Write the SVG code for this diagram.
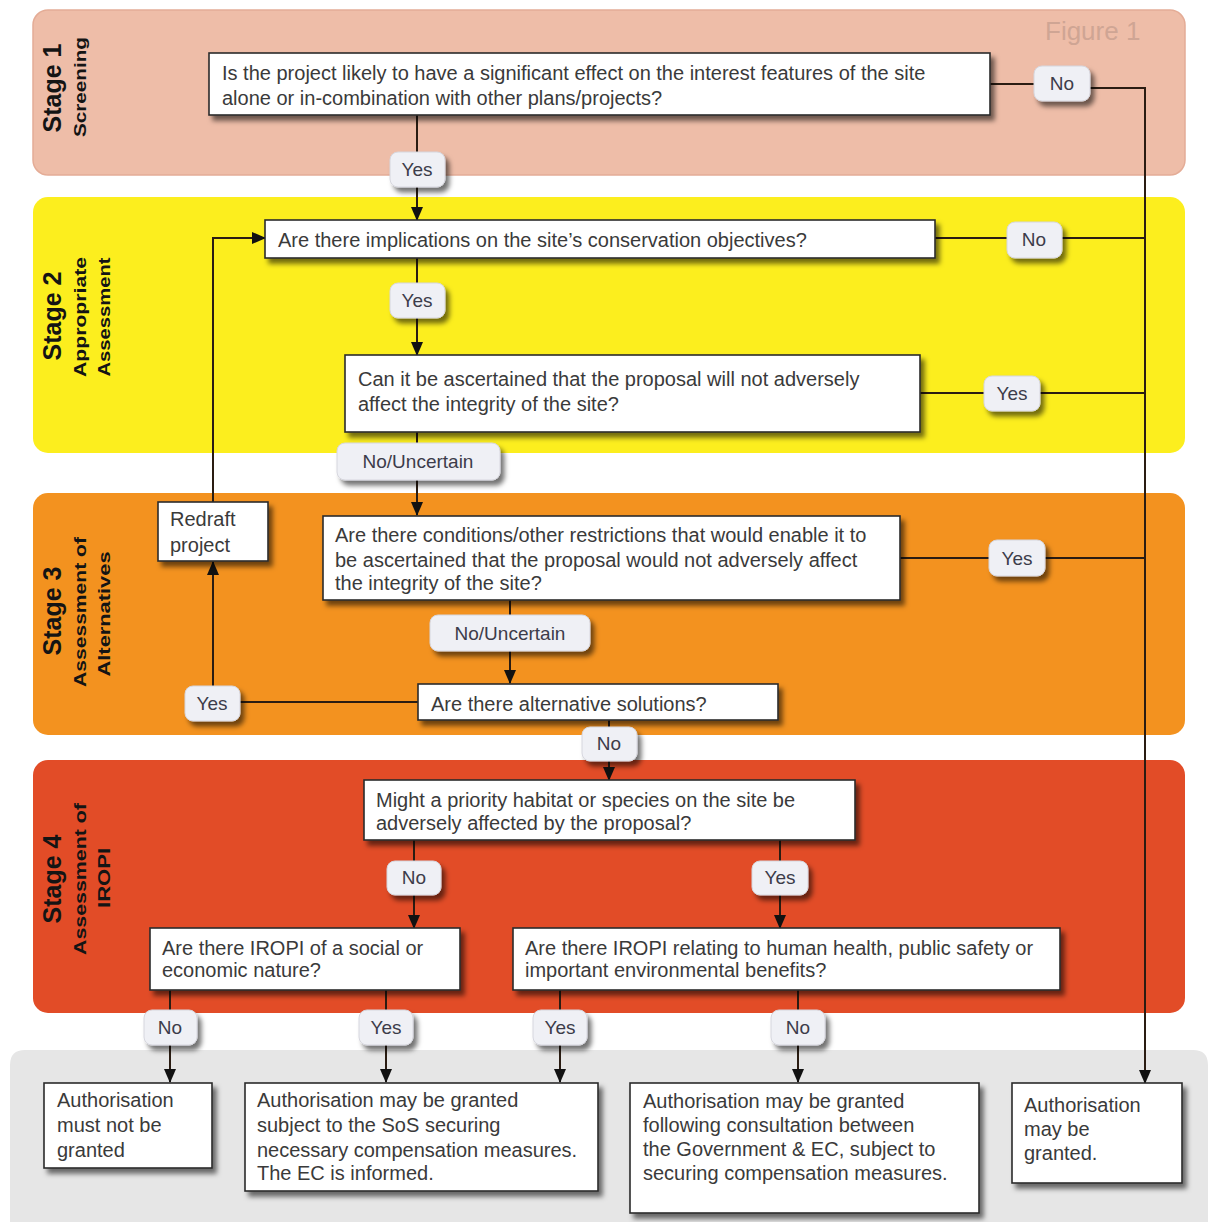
<svg xmlns="http://www.w3.org/2000/svg" width="1210" height="1222" viewBox="0 0 1210 1222">
<style>
.t{font-family:"Liberation Sans",Arial,sans-serif;font-size:20px;fill:#3a3a3a}
.lt{font-family:"Liberation Sans",Arial,sans-serif;font-size:19px;fill:#3c3c4a;text-anchor:middle}
.st{font-family:"Liberation Sans",Arial,sans-serif;font-weight:bold;font-size:25px;fill:#141414;text-anchor:middle}
.ss{font-family:"Liberation Sans",Arial,sans-serif;font-weight:bold;font-size:16px;fill:#141414;text-anchor:middle}
.box{fill:#fff;stroke:#2a2a2a;stroke-width:1.6;filter:url(#sh)}
.lbl{fill:#eff0f5;stroke:#d6d6de;stroke-width:1;filter:url(#sh)}
.c{fill:none;stroke:#2a1c12;stroke-width:2}
.a{marker-end:url(#ah)}
</style>
<defs>
<filter id="sh" x="-20%" y="-30%" width="140%" height="170%">
<feDropShadow dx="4" dy="5" stdDeviation="2.5" flood-color="#000" flood-opacity="0.55"/>
</filter>
<marker id="ah" markerWidth="14" markerHeight="14" refX="13" refY="7" orient="auto" markerUnits="userSpaceOnUse">
<path d="M0,1 L14,7 L0,13 z" fill="#111"/>
</marker>
</defs>
<rect width="1210" height="1222" fill="#ffffff"/>
<g id="bands">
<rect x="33" y="10" width="1152" height="165" rx="15" fill="#eebda8" stroke="#e4ac96" stroke-width="1.5"/>
<rect x="33" y="197" width="1152" height="256" rx="15" fill="#fcee1e"/>
<rect x="33" y="493" width="1152" height="242" rx="15" fill="#f3921f"/>
<rect x="33" y="760" width="1152" height="253" rx="15" fill="#e24c27"/>
<path d="M10,1222 V1065 Q10,1050 25,1050 H1193 Q1208,1050 1208,1065 V1222 Z" fill="#e6e6e6"/>
<text x="1045" y="40" font-family="Liberation Sans,Arial,sans-serif" font-size="26" fill="#cfa594">Figure 1</text>
<text class="st" transform="translate(61,88) rotate(-90)">Stage 1</text>
<text class="ss" transform="translate(86,87) rotate(-90)" textLength="100" lengthAdjust="spacingAndGlyphs">Screening</text>
<text class="st" transform="translate(61,316) rotate(-90)">Stage 2</text>
<text class="ss" transform="translate(86,317) rotate(-90)" textLength="120" lengthAdjust="spacingAndGlyphs">Appropriate</text>
<text class="ss" transform="translate(110,317) rotate(-90)" textLength="119" lengthAdjust="spacingAndGlyphs">Assessment</text>
<text class="st" transform="translate(61,611) rotate(-90)">Stage 3</text>
<text class="ss" transform="translate(86,612) rotate(-90)" textLength="150" lengthAdjust="spacingAndGlyphs">Assessment of</text>
<text class="ss" transform="translate(110,614) rotate(-90)" textLength="125" lengthAdjust="spacingAndGlyphs">Alternatives</text>
<text class="st" transform="translate(61,879) rotate(-90)">Stage 4</text>
<text class="ss" transform="translate(86,879) rotate(-90)" textLength="152" lengthAdjust="spacingAndGlyphs">Assessment of</text>
<text class="ss" transform="translate(110,878) rotate(-90)" textLength="60" lengthAdjust="spacingAndGlyphs">IROPI</text>
</g>
<g id="connectors">
<path class="c" d="M990,84 H1035"/>
<path class="c a" d="M1090,88 H1145 V1083"/>
<path class="c a" d="M417,115 V220"/>
<path class="c" d="M935,238 H1145"/>
<path class="c a" d="M417,258 V355"/>
<path class="c" d="M920,393 H1145"/>
<path class="c a" d="M417,432 V515"/>
<path class="c" d="M900,558 H1145"/>
<path class="c a" d="M510,600 V683"/>
<path class="c a" d="M418,702 H213 V562"/>
<path class="c a" d="M213,502 V238 H265"/>
<path class="c a" d="M609,720 V780"/>
<path class="c a" d="M414,840 V928"/>
<path class="c a" d="M780,840 V928"/>
<path class="c a" d="M170,990 V1082"/>
<path class="c a" d="M386,990 V1082"/>
<path class="c a" d="M560,990 V1082"/>
<path class="c a" d="M798,990 V1082"/>
</g>
<g id="q1"><rect class="box" x="209" y="53" width="781" height="62"/>
<text class="t" x="222" y="80">Is the project likely to have a significant effect on the interest features of the site</text>
<text class="t" x="222" y="105">alone or in-combination with other plans/projects?</text></g>
<g id="l-q1-no"><rect class="lbl" x="1034" y="66" width="56" height="35" rx="8"/><text class="lt" x="1062" y="90">No</text></g>
<g id="l-q1-yes"><rect class="lbl" x="390" y="152" width="55" height="35" rx="8"/><text class="lt" x="417" y="176">Yes</text></g>
<g id="q2"><rect class="box" x="265" y="220" width="670" height="38"/>
<text class="t" x="278" y="247">Are there implications on the site’s conservation objectives?</text></g>
<g id="l-q2-no"><rect class="lbl" x="1007" y="222" width="55" height="36" rx="8"/><text class="lt" x="1034" y="246">No</text></g>
<g id="l-q2-yes"><rect class="lbl" x="390" y="283" width="55" height="35" rx="8"/><text class="lt" x="417" y="307">Yes</text></g>
<g id="q3"><rect class="box" x="345" y="355" width="575" height="77"/>
<text class="t" x="358" y="386">Can it be ascertained that the proposal will not adversely</text>
<text class="t" x="358" y="411">affect the integrity of the site?</text></g>
<g id="l-q3-yes"><rect class="lbl" x="984" y="376" width="56" height="35" rx="8"/><text class="lt" x="1012" y="400">Yes</text></g>
<g id="l-q3-no"><rect class="lbl" x="337" y="443" width="163" height="37" rx="8"/><text class="lt" x="418" y="468">No/Uncertain</text></g>
<g id="q4"><rect class="box" x="323" y="516" width="577" height="84"/>
<text class="t" x="335" y="542">Are there conditions/other restrictions that would enable it to</text>
<text class="t" x="335" y="567">be ascertained that the proposal would not adversely affect</text>
<text class="t" x="335" y="590">the integrity of the site?</text></g>
<g id="l-q4-yes"><rect class="lbl" x="989" y="540" width="56" height="36" rx="8"/><text class="lt" x="1017" y="565">Yes</text></g>
<g id="l-q4-no"><rect class="lbl" x="430" y="615" width="160" height="36" rx="8"/><text class="lt" x="510" y="640">No/Uncertain</text></g>
<g id="q5"><rect class="box" x="418" y="684" width="360" height="36"/>
<text class="t" x="431" y="711">Are there alternative solutions?</text></g>
<g id="l-q5-yes"><rect class="lbl" x="185" y="686" width="55" height="35" rx="8"/><text class="lt" x="212" y="710">Yes</text></g>
<g id="redraft"><rect class="box" x="158" y="502" width="110" height="59"/>
<text class="t" x="170" y="526">Redraft</text>
<text class="t" x="170" y="552">project</text></g>
<g id="l-q5-no"><rect class="lbl" x="582" y="727" width="55" height="34" rx="8"/><text class="lt" x="609" y="750">No</text></g>
<g id="q6"><rect class="box" x="364" y="780" width="491" height="60"/>
<text class="t" x="376" y="807">Might a priority habitat or species on the site be</text>
<text class="t" x="376" y="830">adversely affected by the proposal?</text></g>
<g id="l-q6-no"><rect class="lbl" x="387" y="861" width="54" height="34" rx="8"/><text class="lt" x="414" y="884">No</text></g>
<g id="l-q6-yes"><rect class="lbl" x="752" y="861" width="56" height="34" rx="8"/><text class="lt" x="780" y="884">Yes</text></g>
<g id="q7"><rect class="box" x="150" y="928" width="310" height="62"/>
<text class="t" x="162" y="955">Are there IROPI of a social or</text>
<text class="t" x="162" y="977">economic nature?</text></g>
<g id="q8"><rect class="box" x="513" y="928" width="547" height="62"/>
<text class="t" x="525" y="955">Are there IROPI relating to human health, public safety or</text>
<text class="t" x="525" y="977">important environmental benefits?</text></g>
<g id="l-q7-no"><rect class="lbl" x="144" y="1010" width="53" height="35" rx="8"/><text class="lt" x="170" y="1034">No</text></g>
<g id="l-q7-yes"><rect class="lbl" x="359" y="1010" width="54" height="35" rx="8"/><text class="lt" x="386" y="1034">Yes</text></g>
<g id="l-q8-yes"><rect class="lbl" x="533" y="1010" width="54" height="35" rx="8"/><text class="lt" x="560" y="1034">Yes</text></g>
<g id="l-q8-no"><rect class="lbl" x="771" y="1010" width="54" height="35" rx="8"/><text class="lt" x="798" y="1034">No</text></g>
<g id="b1"><rect class="box" x="44" y="1083" width="168" height="85"/>
<text class="t" x="57" y="1107">Authorisation</text>
<text class="t" x="57" y="1132">must not be</text>
<text class="t" x="57" y="1157">granted</text></g>
<g id="b2"><rect class="box" x="245" y="1083" width="353" height="108"/>
<text class="t" x="257" y="1107">Authorisation may be granted</text>
<text class="t" x="257" y="1132">subject to the SoS securing</text>
<text class="t" x="257" y="1157">necessary compensation measures.</text>
<text class="t" x="257" y="1180">The EC is informed.</text></g>
<g id="b3"><rect class="box" x="630" y="1083" width="349" height="130"/>
<text class="t" x="643" y="1108">Authorisation may be granted</text>
<text class="t" x="643" y="1132">following consultation between</text>
<text class="t" x="643" y="1156">the Government &amp; EC, subject to</text>
<text class="t" x="643" y="1180">securing compensation measures.</text></g>
<g id="b4"><rect class="box" x="1012" y="1083" width="170" height="100"/>
<text class="t" x="1024" y="1112">Authorisation</text>
<text class="t" x="1024" y="1136">may  be</text>
<text class="t" x="1024" y="1160">granted.</text></g>
</svg>
